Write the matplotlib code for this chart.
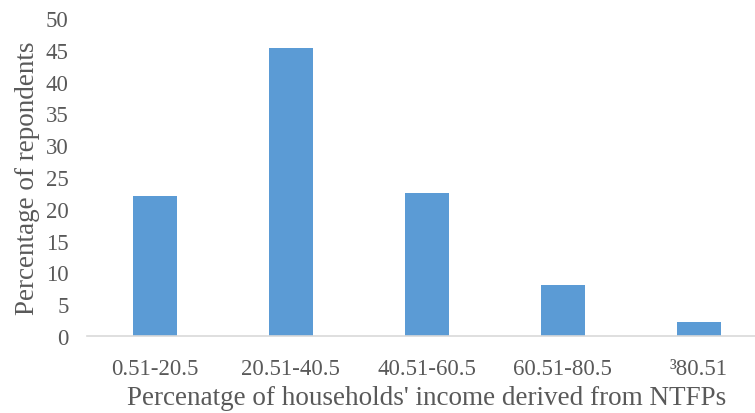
import matplotlib.pyplot as plt

categories = ["0.51-20.5", "20.51-40.5", "40.51-60.5", "60.51-80.5", "³80.51"]
values = [22.0, 45.3, 22.5, 8.0, 2.2]

plt.rcParams['font.family'] = ['Liberation Serif', 'DejaVu Serif']
text_color = "#595959"

fig = plt.figure(figsize=(7.55, 4.14), dpi=100)
ax = fig.add_axes([0.115, 0.186, 0.9007, 0.768])

x = range(len(categories))
ax.bar(x, values, width=0.32, color="#5B9BD5")

ax.set_xlim(-0.5, len(categories) - 0.5)
ax.set_ylim(0, 50)
ax.set_yticks(range(0, 51, 5))
ax.set_xticks(list(x))
ax.set_xticklabels(categories)

for side in ["top", "right", "left"]:
    ax.spines[side].set_visible(False)
ax.spines["bottom"].set_color("#D9D9D9")
ax.spines["bottom"].set_linewidth(1.2)

ax.tick_params(axis="both", length=0, labelsize=16.5, colors=text_color)
ax.tick_params(axis="x", pad=16)
ax.tick_params(axis="y", pad=13)

ax.set_xlabel("Percenatge of households' income derived from NTFPs",
              fontsize=19.5, color=text_color, labelpad=4)
ax.set_ylabel("Percentage of repondents", fontsize=19.5, color=text_color)
ax.yaxis.set_label_coords(-0.069, 0.5)

fig.savefig("out.png", dpi=100)
